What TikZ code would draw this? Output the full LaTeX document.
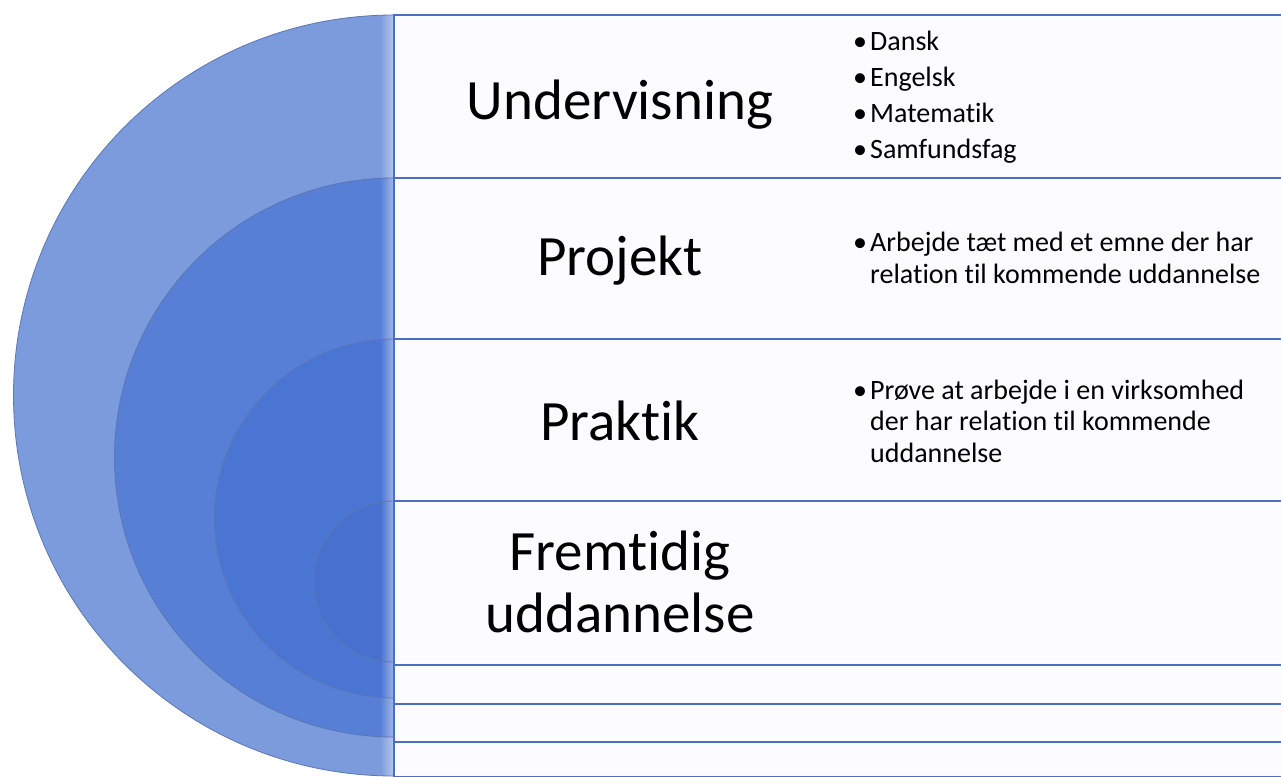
\documentclass[tikz,border=0pt]{standalone}
\usepackage{fontspec}
\setmainfont{Carlito}[Ligatures=NoCommon]
\usepackage{xcolor}
\definecolor{ringA}{HTML}{7B9BDC}
\definecolor{ringB}{HTML}{577FD5}
\definecolor{ringC}{HTML}{4B75D2}
\definecolor{ringD}{HTML}{4871CF}
\definecolor{ringline}{HTML}{5B77B4}
\definecolor{boxline}{HTML}{4A6FC2}
\definecolor{boxfill}{HTML}{FCFBFF}
\newcommand{\blt}{\makebox[17pt][l]{\textbullet}}
\tikzset{
    levelbox/.style={fill=boxfill, draw=boxline, line width=2pt},
    ring/.style={draw=ringline, line width=0.8pt},
    title/.style={anchor=base, align=center, inner sep=0pt, font=\fontsize{57}{62}\selectfont},
    items/.style={anchor=base west, align=left, inner sep=0pt, font=\fontsize{28}{31.5}\selectfont}
}

\begin{document}
\begin{tikzpicture}[x=1pt, y=-1pt]
                        \useasboundingbox (0, 0) rectangle (1281, 776);
                        \fill[white] (0, 0) rectangle (1281, 776);

                        \foreach \t/\b/\c in {15/776/ringA, 178/737/ringB, 339/698/ringC, 501/662/ringD} {
                            \pgfmathsetmacro\r{(\b-\t)/2}
                            \begin{scope}
                                \clip (394, \t) arc[start angle=270, end angle=90, radius=\r] -- cycle;
                                \fill[\c] (0, \t) rectangle (394, \b);
                                \shade[left color=\c, right color=\c!55!white] (380, \t) rectangle (394, \b);
                            \end{scope}
                            \draw[ring] (394, \t) arc[start angle=270, end angle=90, radius=\r];
                        }

                        \draw[levelbox] (394, 15) rectangle (1300, 777);
                        \draw[levelbox] (394, 178) rectangle (1300, 742);
                        \draw[levelbox] (394, 339) rectangle (1300, 704);
                        \draw[levelbox] (394, 501) rectangle (1300, 665);

                        \node[title] (und) at (620, 119) {Undervisning};
                        \node[title] (proj) at (620, 275) {Projekt};
                        \node[title] (prak) at (620, 440) {Praktik};
                        \node[title] (frem) at (620, 632) {Fremtidig\\uddannelse};

                        \node[items] (undItems) at (853, 158) {\blt Dansk\\[4.5pt]\blt Engelsk\\[4.5pt]\blt Matematik\\[4.5pt]\blt Samfundsfag};
                        \node[items] (projItems) at (853, 283) {\blt Arbejde tæt med et emne der har\\\hspace*{17pt}relation til kommende uddannelse};
                        \node[items] (prakItems) at (853, 462) {\blt Prøve at arbejde i en virksomhed\\\hspace*{17pt}der har relation til kommende\\\hspace*{17pt}uddannelse};
                    \end{tikzpicture}
\end{document}
